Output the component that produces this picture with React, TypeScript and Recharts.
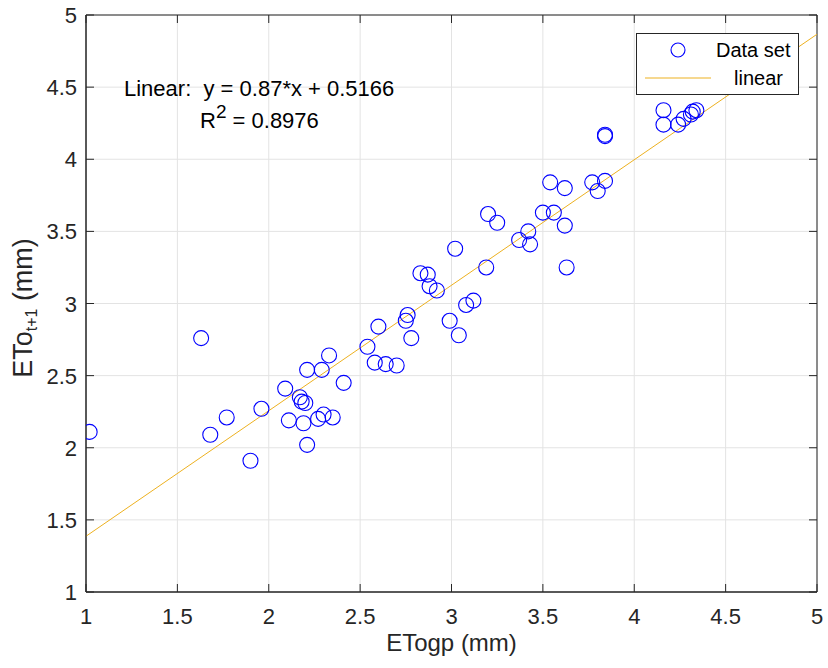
import React from 'react'
import { ScatterChart, Scatter, XAxis, YAxis, CartesianGrid, ReferenceLine, ReferenceArea } from 'recharts'

// ETogp (x) vs ETo t+1 (y)
const etogp = [1.02, 1.63, 1.68, 1.77, 1.9, 1.96, 2.09, 2.11, 2.17, 2.18, 2.2, 2.19, 2.21, 2.21, 2.27, 2.29, 2.3, 2.33, 2.35, 2.41, 2.54, 2.58, 2.6, 2.64, 2.7, 2.75, 2.76, 2.78, 2.83, 2.87, 2.88, 2.92, 2.99, 3.02, 3.04, 3.08, 3.12, 3.19, 3.2, 3.25, 3.37, 3.42, 3.43, 3.5, 3.54, 3.56, 3.62, 3.62, 3.63, 3.77, 3.8, 3.84, 3.84, 3.84, 4.16, 4.16, 4.24, 4.27, 4.31, 4.32, 4.34]
const etoNext = [2.11, 2.76, 2.09, 2.21, 1.91, 2.27, 2.41, 2.19, 2.35, 2.32, 2.31, 2.17, 2.54, 2.02, 2.2, 2.54, 2.23, 2.64, 2.21, 2.45, 2.7, 2.59, 2.84, 2.58, 2.57, 2.88, 2.92, 2.76, 3.21, 3.2, 3.12, 3.09, 2.88, 3.38, 2.78, 2.99, 3.02, 3.25, 3.62, 3.56, 3.44, 3.5, 3.41, 3.63, 3.84, 3.63, 3.8, 3.54, 3.25, 3.84, 3.78, 3.85, 4.17, 4.16, 4.24, 4.34, 4.24, 4.28, 4.31, 4.33, 4.34]
const ticks = [1, 1.5, 2, 2.5, 3, 3.5, 4, 4.5, 5]
const slope = 0.87
const intercept = 0.5166
const r2 = 0.8976

const W = 828
const H = 668
const LEFT = 86
const TOP = 15
const RIGHT = 11
const BOTTOM = 76
const PW = W - LEFT - RIGHT
const PH = H - TOP - BOTTOM
const TL = 8
const FONT = '"Liberation Sans", Arial, sans-serif'
const INK = '#262626'

const points = etogp.map((x, i) => ({ x, y: etoNext[i] }))

const XTick = (props: any) => {
  const { x, y, payload } = props
  return (
    <g>
      <line x1={x} x2={x} y1={y} y2={y - TL} stroke={INK} />
      <line x1={x} x2={x} y1={y - PH} y2={y - PH + TL} stroke={INK} />
      <text x={x} y={y + 32} textAnchor="middle" fontSize={22} fill={INK} fontFamily={FONT}>
        {payload.value}
      </text>
    </g>
  )
}

const YTick = (props: any) => {
  const { x, y, payload } = props
  return (
    <g>
      <line x1={x} x2={x + TL} y1={y} y2={y} stroke={INK} />
      <line x1={x + PW} x2={x + PW - TL} y1={y} y2={y} stroke={INK} />
      <text x={x - 9} y={y + 8} textAnchor="end" fontSize={22} fill={INK} fontFamily={FONT}>
        {payload.value}
      </text>
    </g>
  )
}

const Ring = (props: any) => <circle cx={props.cx} cy={props.cy} r={7.5} fill="none" stroke="#0000ff" strokeWidth={1.1} />

export default function App() {
  return (
    <div style={{ position: 'absolute', left: 0, top: 0, width: W, height: H, background: '#fff', fontFamily: FONT }}>
      <ScatterChart width={W} height={H} margin={{ top: TOP, right: RIGHT, left: 0, bottom: 0 }}>
        <CartesianGrid stroke="#e3e3e3" horizontalValues={ticks} verticalValues={ticks} />
        <XAxis
          type="number"
          dataKey="x"
          domain={[1, 5]}
          ticks={ticks}
          height={BOTTOM}
          tickSize={0}
          tickMargin={0}
          tick={<XTick />}
          axisLine={{ stroke: INK }}
          allowDataOverflow
          label={{
            content: () => (
              <text x={LEFT + PW / 2} y={651} textAnchor="middle" fontSize={24} fill={INK} fontFamily={FONT}>
                ETogp (mm)
              </text>
            ),
          }}
        />
        <YAxis
          type="number"
          dataKey="y"
          domain={[1, 5]}
          ticks={ticks}
          width={LEFT}
          tickSize={0}
          tickMargin={0}
          tick={<YTick />}
          axisLine={{ stroke: INK }}
          allowDataOverflow
          label={{
            content: () => (
              <text transform="translate(32, 308) rotate(-90)" textAnchor="middle" fontSize={27} fill={INK} fontFamily={FONT}>
                ETo<tspan fontSize={16} dy={5}>t+1</tspan>
                <tspan dy={-5}> (mm)</tspan>
              </text>
            ),
          }}
        />
        <ReferenceArea x1={1} x2={5} y1={1} y2={5} fill="none" stroke={INK} strokeWidth={1} />
        <ReferenceLine
          segment={[
            { x: 1, y: slope * 1 + intercept },
            { x: 5, y: slope * 5 + intercept },
          ]}
          stroke="#EDB120"
          strokeWidth={1}
          ifOverflow="hidden"
        />
        <Scatter data={points} shape={<Ring />} isAnimationActive={false} />
      </ScatterChart>
      <svg width={W} height={H} style={{ position: 'absolute', left: 0, top: 0, pointerEvents: 'none' }}>
        <text x={124} y={96} fontSize={22} fill="#000" fontFamily={FONT} style={{ whiteSpace: 'pre' }}>
          {`Linear:  y = ${slope}*x + ${intercept}`}
        </text>
        <text x={200} y={128} fontSize={22} fill="#000" fontFamily={FONT}>
          R<tspan fontSize={19} dy={-10}>2</tspan>
          <tspan dy={10}>{` = ${r2}`}</tspan>
        </text>
      </svg>
      <div
        style={{
          position: 'absolute',
          left: 636,
          top: 33,
          width: 161,
          height: 60,
          border: `1px solid ${INK}`,
          background: '#fff',
        }}
      >
        <svg width={161} height={60} style={{ position: 'absolute', left: 0, top: 0 }}>
          <circle cx={41} cy={16} r={7} fill="none" stroke="#0000ff" strokeWidth={1.1} />
          <line x1={8} x2={74} y1={44} y2={44} stroke="#EDB120" strokeWidth={1} />
          <text x={79} y={23} fontSize={20} fontFamily={FONT}>Data set</text>
          <text x={97} y={51} fontSize={20} fontFamily={FONT}>linear</text>
        </svg>
      </div>
    </div>
  )
}
